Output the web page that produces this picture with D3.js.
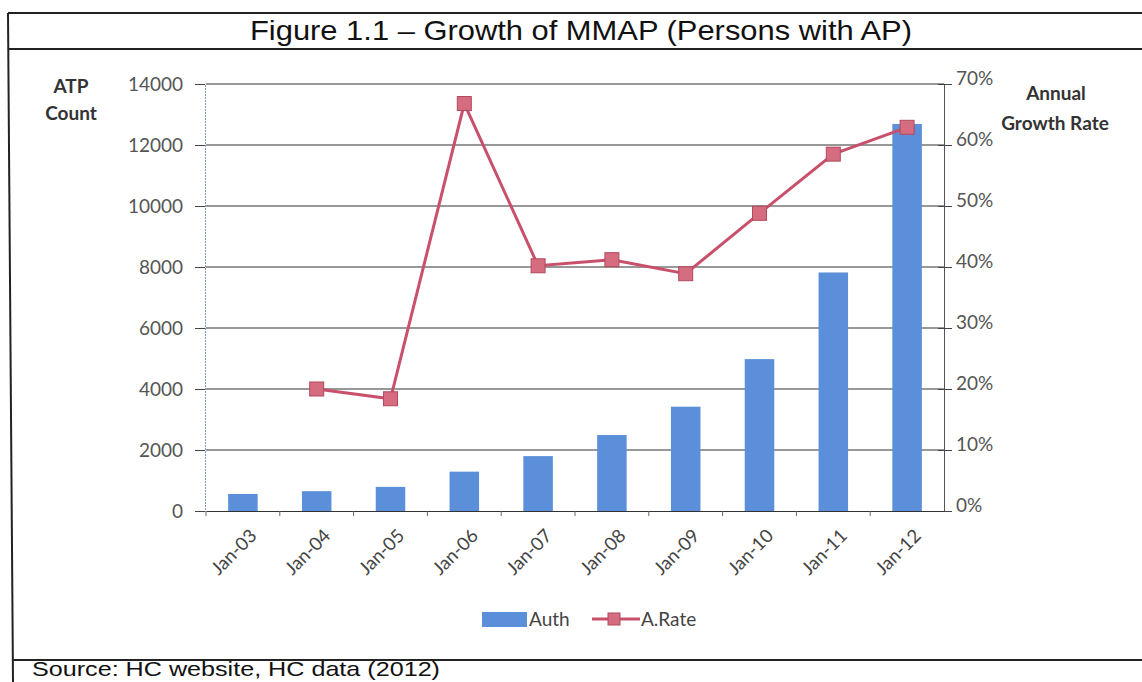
<!DOCTYPE html>
<html><head><meta charset="utf-8">
<script src="https://cdn.jsdelivr.net/npm/d3@7"></script>
<style>body{margin:0;background:#fff}</style>
</head><body>
<svg id="c" width="1142" height="682"></svg>
<script>
const categories = ["Jan-03","Jan-04","Jan-05","Jan-06","Jan-07","Jan-08","Jan-09","Jan-10","Jan-11","Jan-12"];
const authCounts = [560, 650, 790, 1290, 1800, 2490, 3420, 4980, 7820, 12690];
const growthRate = [null, 0.200, 0.184, 0.668, 0.402, 0.412, 0.389, 0.488, 0.585, 0.629];
const leftTicks = [0, 2000, 4000, 6000, 8000, 10000, 12000, 14000];
const rightTicks = [0, 0.1, 0.2, 0.3, 0.4, 0.5, 0.6, 0.7];

const svg = d3.select("#c");
const L = 206, R = 944, T = 84, B = 511;
const barColor = "#5b8fda", lineColor = "#c9506b", markFill = "#d66c80";
const axisFont = "Lato, 'Open Sans', sans-serif";

// frame
svg.append("line").attr("x1",8).attr("x2",1142).attr("y1",13).attr("y2",13).attr("stroke","#222").attr("stroke-width",2);
svg.append("line").attr("x1",8).attr("x2",1142).attr("y1",49).attr("y2",49).attr("stroke","#222").attr("stroke-width",2);
svg.append("line").attr("x1",12).attr("x2",1142).attr("y1",660).attr("y2",660).attr("stroke","#222").attr("stroke-width",2);
svg.append("line").attr("x1",8).attr("x2",13).attr("y1",13).attr("y2",682).attr("stroke","#222").attr("stroke-width",2);

svg.append("text").attr("x",250).attr("y",40)
  .attr("font-family","'Liberation Sans', Arial, sans-serif").attr("font-size",28).attr("fill","#111")
  .attr("textLength",662).attr("lengthAdjust","spacingAndGlyphs")
  .text("Figure 1.1 – Growth of MMAP (Persons with AP)");
svg.append("text").attr("x",32).attr("y",676)
  .attr("font-family","'Liberation Sans', Arial, sans-serif").attr("font-size",21).attr("fill","#111")
  .attr("textLength",408).attr("lengthAdjust","spacingAndGlyphs")
  .text("Source: HC website, HC data (2012)");

const x = d3.scaleBand().domain(categories).range([L, R]).paddingInner(0.6).paddingOuter(0.3);
const xb = d3.scaleBand().domain(categories).range([L, R]);
const y = d3.scaleLinear().domain([0, 14000]).range([B, T]);
const y2 = d3.scaleLinear().domain([0, 0.7]).range([B, T]);

// gridlines
svg.append("g").selectAll("line").data(leftTicks.slice(1)).join("line")
  .attr("x1", L).attr("x2", R).attr("y1", d => y(d)).attr("y2", d => y(d))
  .attr("stroke", "#333").attr("stroke-width", 1.2);

// left axis
const gl = svg.append("g").attr("transform", `translate(${L-1},0)`)
  .call(d3.axisLeft(y).tickValues(leftTicks).tickSize(10).tickPadding(12).tickFormat(d3.format("d")));
gl.select(".domain").attr("stroke", "#7f97b8").attr("stroke-dasharray","2,1");
gl.selectAll(".tick line").attr("stroke", "#444");
gl.selectAll("text").attr("font-family", axisFont).attr("font-size", 19).attr("fill", "#555");

// right axis
const gr = svg.append("g").attr("transform", `translate(${R},0)`)
  .call(d3.axisRight(y2).tickValues(rightTicks).tickSize(8).tickPadding(4).tickFormat(d3.format(".0%")));
gr.select(".domain").attr("stroke", "#555");
gr.selectAll(".tick line").attr("stroke", "#444").attr("x1", -6);
gr.selectAll("text").attr("font-family", axisFont).attr("font-size", 19).attr("fill", "#555").attr("dy","0.05em");

// bars
svg.append("g").selectAll("rect").data(authCounts).join("rect")
  .attr("x", (d, i) => x(categories[i])).attr("width", x.bandwidth())
  .attr("y", d => y(d)).attr("height", d => B - y(d))
  .attr("fill", barColor);

// x axis
const gx = svg.append("g").attr("transform", `translate(0,${B})`)
  .call(d3.axisBottom(xb).tickSize(0));
gx.select(".domain").attr("stroke", "#333").attr("stroke-width",1.2);
gx.selectAll("text").attr("font-family", axisFont).attr("font-size", 18.5).attr("fill", "#444")
  .attr("text-anchor", "end").attr("x", 0).attr("y", 0).attr("dy", 0)
  .attr("transform", "translate(15,26) rotate(-45)");
// boundary ticks
svg.append("g").selectAll("line").data(categories).join("line")
  .attr("x1", d => xb(d)).attr("x2", d => xb(d)).attr("y1", B).attr("y2", B + 5)
  .attr("stroke", "#666");

// line
const pts = growthRate.map((v, i) => ({v, c: categories[i]})).filter(d => d.v !== null);
const line = d3.line().x(d => xb(d.c) + xb.bandwidth()/2).y(d => y2(d.v));
svg.append("path").datum(pts).attr("d", line).attr("fill", "none")
  .attr("stroke", lineColor).attr("stroke-width", 3);
svg.append("g").selectAll("rect").data(pts).join("rect")
  .attr("x", d => xb(d.c) + xb.bandwidth()/2 - 7).attr("y", d => y2(d.v) - 7)
  .attr("width", 14).attr("height", 14).attr("fill", markFill).attr("stroke", "#b04a5c").attr("stroke-width", 1);

// axis titles
const at = {"font-family": axisFont, "font-size": 19, "font-weight": "bold", "fill": "#333"};
function txt(xx, yy, s, anchor) {
  const t = svg.append("text").attr("x", xx).attr("y", yy).attr("text-anchor", anchor || "middle").text(s);
  Object.entries(at).forEach(([k, v]) => t.attr(k, v));
}
txt(71, 93, "ATP"); txt(71, 120, "Count");
txt(1056, 100, "Annual"); txt(1055, 130, "Growth Rate");

// legend
const lg = svg.append("g");
lg.append("rect").attr("x", 482).attr("y", 612).attr("width", 45).attr("height", 15).attr("fill", barColor);
lg.append("text").attr("x", 529).attr("y", 626).attr("font-family", axisFont).attr("font-size", 19).attr("fill", "#444").text("Auth");
lg.append("line").attr("x1", 592).attr("x2", 640).attr("y1", 619).attr("y2", 619).attr("stroke", lineColor).attr("stroke-width", 3);
lg.append("rect").attr("x", 608).attr("y", 613).attr("width", 12).attr("height", 12).attr("fill", markFill).attr("stroke", "#b04a5c");
lg.append("text").attr("x", 641).attr("y", 626).attr("font-family", axisFont).attr("font-size", 19).attr("fill", "#444").text("A.Rate");
</script>
</body></html>
